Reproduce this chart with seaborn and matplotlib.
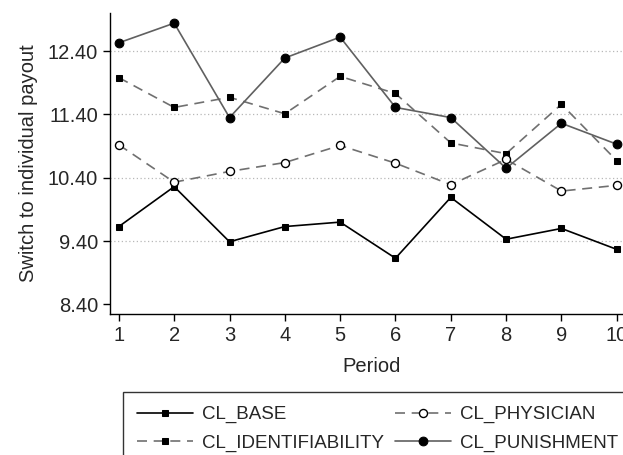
import numpy as np
import matplotlib
matplotlib.use("Agg")
import matplotlib.pyplot as plt
import seaborn as sns

periods = [1, 2, 3, 4, 5, 6, 7, 8, 9, 10]
cl_base = [9.63, 10.26, 9.39, 9.63, 9.70, 9.13, 10.09, 9.43, 9.60, 9.27]
cl_physician = [10.92, 10.33, 10.50, 10.64, 10.91, 10.63, 10.29, 10.69, 10.19, 10.28]
cl_identifiability = [11.98, 11.51, 11.67, 11.41, 12.00, 11.73, 10.95, 10.78, 11.56, 10.67]
cl_punishment = [12.53, 12.84, 11.35, 12.29, 12.62, 11.51, 11.35, 10.55, 11.26, 10.93]
y_ticks = [8.40, 9.40, 10.40, 11.40, 12.40]

sns.set_theme(style="ticks")
plt.rcParams["font.family"] = ["Liberation Sans", "DejaVu Sans"]

fig = plt.figure(figsize=(6.23, 4.55), dpi=100)
ax = fig.add_axes([0.1766, 0.3099, 0.84, 0.6615])

series = [
    ("CL_BASE", cl_base, dict(color="black", linestyle="-", marker="s", markersize=4.5,
                              markerfacecolor="black", markeredgecolor="black", linewidth=1.2)),
    ("CL_IDENTIFIABILITY", cl_identifiability, dict(color="#707070", linestyle=(0, (6, 4)), marker="s",
                                                    markersize=4.5, markerfacecolor="black",
                                                    markeredgecolor="black", linewidth=1.2)),
    ("CL_PHYSICIAN", cl_physician, dict(color="#707070", linestyle=(0, (6, 4)), marker="o", markersize=5.8,
                                        markerfacecolor="white", markeredgecolor="black",
                                        markeredgewidth=1.0, linewidth=1.2)),
    ("CL_PUNISHMENT", cl_punishment, dict(color="#606060", linestyle="-", marker="o", markersize=6.3,
                                          markerfacecolor="black", markeredgecolor="black", linewidth=1.2)),
]

for name, vals, style in series:
    sns.lineplot(x=periods, y=vals, ax=ax, label=name, **style)

ax.set_xlim(0.84, 10.3)
ax.set_ylim(8.25, 13.0)
ax.set_xticks(periods)
ax.set_yticks(y_ticks)
ax.set_yticklabels([f"{v:.2f}" for v in y_ticks])
ax.tick_params(axis="both", direction="out", length=5, width=1, labelsize=14.5, color="black")
ax.grid(axis="y", linestyle=(0, (1, 2)), color="#b8b8b8", linewidth=0.9)
ax.yaxis.get_gridlines()[0].set_visible(False)
for s in ["top", "right"]:
    ax.spines[s].set_visible(False)
for s in ["left", "bottom"]:
    ax.spines[s].set_color("black")
    ax.spines[s].set_linewidth(1.0)

ax.set_xlabel("Period", fontsize=14.5, labelpad=9)
ax.set_ylabel("Switch to individual payout", fontsize=14.5, labelpad=7)

handles, labels = ax.get_legend_handles_labels()
ax.get_legend().remove()
leg = fig.legend(handles, labels, ncol=2, loc="upper left",
                 bbox_to_anchor=(0.1974, 0.1385), borderaxespad=0, frameon=True, fancybox=False,
                 edgecolor="black", fontsize=13.5, handlelength=3.0, handletextpad=0.45,
                 columnspacing=0.6, borderpad=0.75, labelspacing=0.6)
leg.get_frame().set_linewidth(1.0)

fig.savefig("out.png", dpi=100)
